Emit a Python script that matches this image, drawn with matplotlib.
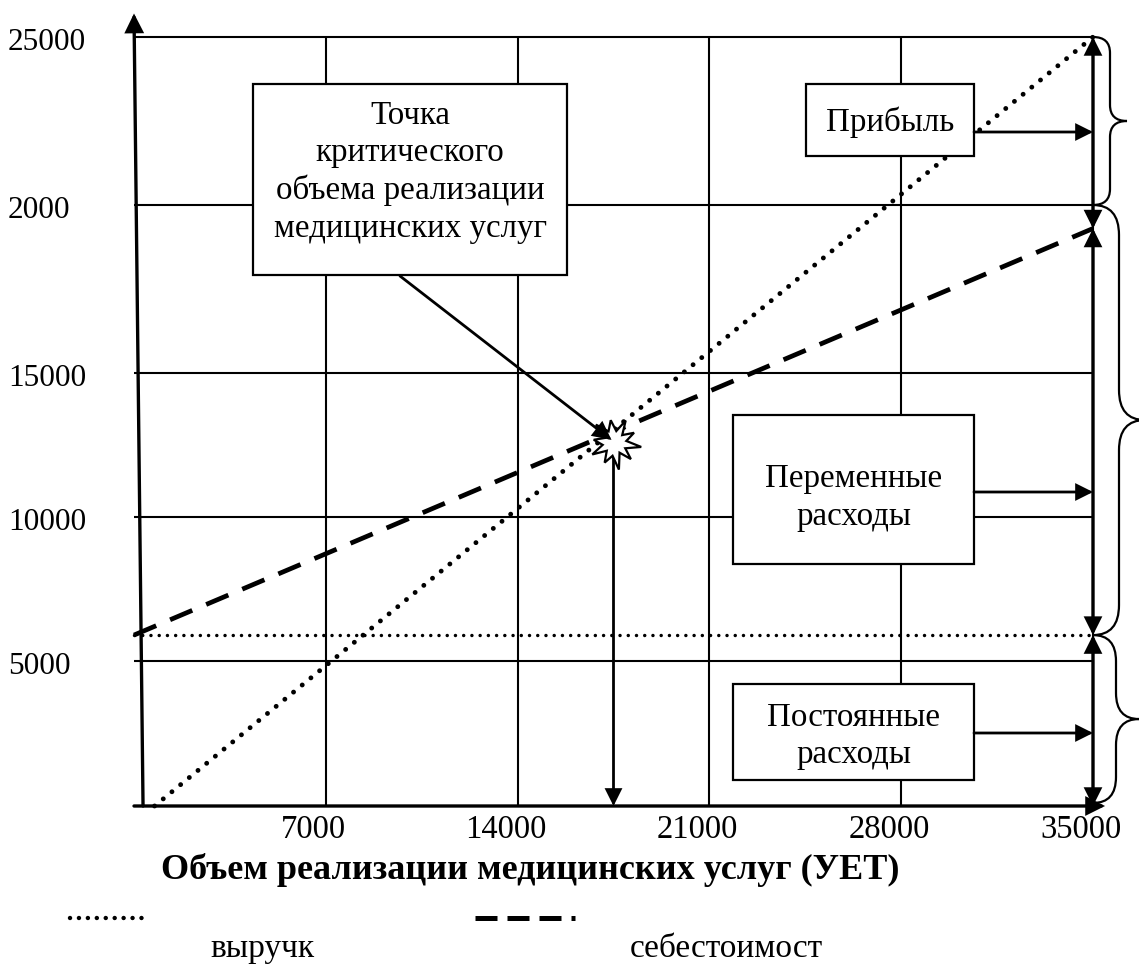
import numpy as np
import matplotlib
matplotlib.use("Agg")
import matplotlib.pyplot as plt
from matplotlib.patches import Rectangle, Polygon, PathPatch, FancyArrowPatch
from matplotlib.path import Path
from matplotlib.lines import Line2D

# ---------------- data ----------------
volume_ticks = [7000, 14000, 21000, 28000, 35000]
volume_tick_labels = ["7000", "14000", "21000", "28000", "35000"]
money_ticks = [5000, 10000, 15000, 20000, 25000]
money_tick_labels = ["5000", "10000", "15000", "2000", "25000"]

revenue_volume = [750, 35000]
revenue_value = [0, 25000]
cost_volume = [0, 35000]
cost_value = [5900, 19300]
fixed_volume = [0, 35000]
fixed_value = [5900, 5900]
breakeven_volume = 17500

x_label = "Объем реализации медицинских услуг (УЕТ)"
legend_labels = ["выручк", "себестоимост"]
box_breakeven = ["Точка", "критического", "объема реализации", "медицинских услуг"]
box_profit = ["Прибыль"]
box_variable = ["Переменные", "расходы"]
box_fixed = ["Постоянные", "расходы"]

# ---------------- figure / scale ----------------
W, H = 1139, 967
fig = plt.figure(figsize=(W / 100, H / 100), dpi=100)
fig.patch.set_facecolor("white")
SERIF = ["Liberation Serif", "DejaVu Serif"]

# the original drawing has unevenly spaced horizontal grid rows
grid_vals = np.array([0, 5000, 10000, 15000, 20000, 25000], float)
grid_pos = np.array([0, 145, 289, 433, 601, 769], float)
s0 = (grid_pos[1] - grid_pos[0]) / (grid_vals[1] - grid_vals[0])
s1 = (grid_pos[-1] - grid_pos[-2]) / (grid_vals[-1] - grid_vals[-2])


def fwd(v):
    v = np.asarray(v, float)
    out = np.interp(v, grid_vals, grid_pos)
    out = np.where(v < grid_vals[0], grid_pos[0] + (v - grid_vals[0]) * s0, out)
    out = np.where(v > grid_vals[-1], grid_pos[-1] + (v - grid_vals[-1]) * s1, out)
    return out


def inv(p):
    p = np.asarray(p, float)
    out = np.interp(p, grid_pos, grid_vals)
    out = np.where(p < grid_pos[0], grid_vals[0] + (p - grid_pos[0]) / s0, out)
    out = np.where(p > grid_pos[-1], grid_vals[-1] + (p - grid_pos[-1]) / s1, out)
    return out


ax = fig.add_axes([134 / W, 161 / H, 959 / W, 769 / H], zorder=1)
ax.set_yscale("function", functions=(fwd, inv))
ax.set_xlim(0, 35000)
ax.set_ylim(0, 25000)
ax.set_axis_off()

pax = fig.add_axes([0, 0, 1, 1], zorder=2)
pax.set_xlim(0, W)
pax.set_ylim(H, 0)
pax.set_axis_off()
pax.patch.set_alpha(0)


def to_px(x, y):
    X, Y = ax.transData.transform((x, y))
    return float(X), float(H - Y)


# ---------------- grid ----------------
for v in money_ticks:
    ax.plot([0, 35000], [v, v], color="k", lw=1.5, solid_capstyle="butt", clip_on=False)
for v in volume_ticks:
    ax.plot([v, v], [0, 25000], color="k", lw=1.5, solid_capstyle="butt", clip_on=False)

# ---------------- series ----------------
ax.plot(fixed_volume, fixed_value, color="k", lw=2.5,
        linestyle=(0, (0.01, 2.36)), dash_capstyle="round", clip_on=False, zorder=3)
ax.plot(cost_volume, cost_value, color="k", lw=3.4,
        linestyle=(0, (5.1, 3.2)), dash_capstyle="butt", clip_on=False, zorder=3)
ax.plot(revenue_volume, revenue_value, color="k", lw=3.5,
        linestyle=(0, (0.01, 2.3)), dash_capstyle="round", clip_on=False, zorder=3)


def arrow(p0, p1, style="-|>", lw=2.2, ms=24, z=6):
    pax.add_patch(FancyArrowPatch(p0, p1, arrowstyle=style, mutation_scale=ms,
                                  lw=lw, color="k", shrinkA=0, shrinkB=0,
                                  zorder=z, joinstyle="miter"))


# ---------------- axes arrows ----------------
x0p, y0p = to_px(0, 0)
arrow((x0p, y0p), to_px(35440, 0), lw=2.4, ms=26)
arrow(to_px(330, 0), to_px(0, 25700), lw=2.4, ms=26)

# ---------------- right-side double arrows ----------------
arrow(to_px(35000, revenue_value[-1]), to_px(35000, cost_value[-1]), style="<|-|>", lw=2.4, ms=24)
arrow(to_px(35000, cost_value[-1]), to_px(35000, fixed_value[-1]), style="<|-|>", lw=2.4, ms=24)
arrow(to_px(35000, fixed_value[-1]), to_px(35000, 0), style="<|-|>", lw=2.4, ms=24)


# ---------------- braces ----------------
def brace(x0, y0, y1, w, r):
    ym = (y0 + y1) / 2
    xs = x0 + w * 0.5
    xc = x0 + w
    verts = [(x0, y0), (xs, y0), (xs, y0 + r),
             (xs, ym - r), (xs, ym), (xc, ym),
             (xs, ym), (xs, ym + r),
             (xs, y1 - r), (xs, y1), (x0, y1)]
    codes = [Path.MOVETO, Path.CURVE3, Path.CURVE3,
             Path.LINETO, Path.CURVE3, Path.CURVE3,
             Path.CURVE3, Path.CURVE3,
             Path.LINETO, Path.CURVE3, Path.CURVE3]
    pax.add_patch(PathPatch(Path(verts, codes), fill=False, lw=1.6, ec="k", zorder=5))


bx_right, _ = to_px(35000, 0)
brace(bx_right, to_px(0, 25000)[1], to_px(0, 20000)[1], 34, 16)
brace(bx_right, to_px(0, 20000)[1], to_px(0, fixed_value[0])[1], 52, 30)
brace(bx_right, to_px(0, fixed_value[0])[1], to_px(0, 0)[1] - 3, 46, 26)


# ---------------- boxes ----------------
def box(x, y, w, h, lines, baselines):
    pax.add_patch(Rectangle((x, y), w, h, fc="white", ec="k", lw=1.6, zorder=4))
    for t, b in zip(lines, baselines):
        pax.text(x + w / 2, b, t, ha="center", va="baseline", fontsize=23.8,
                 family=SERIF, zorder=7)


box(253, 84, 314, 191, box_breakeven, [124, 161.5, 199, 236.5])
box(806, 84, 168, 72, box_profit, [131])
box(733, 415, 241, 149, box_variable, [487, 524.5])
box(733, 684, 241, 96, box_fixed, [726, 763])

arrow((974, 132), (bx_right, 132), lw=2.0, ms=24)
arrow((974, 492), (bx_right, 492), lw=2.0, ms=24)
arrow((974, 733), (bx_right, 733), lw=2.0, ms=24)

# ---------------- break-even marker ----------------
rp0 = np.array(to_px(revenue_volume[0], revenue_value[0]))
rp1 = np.array(to_px(revenue_volume[1], revenue_value[1]))
bxp, _ = to_px(breakeven_volume, 0)
t = (bxp - rp0[0]) / (rp1[0] - rp0[0])
byp = rp0[1] + t * (rp1[1] - rp0[1])
cx, cy = bxp + 1, byp + 13

arrow((bxp, cy), to_px(breakeven_volume, 0), lw=2.0, ms=24, z=4)

radii = [27, 12, 23, 11, 27, 13, 22, 11, 25, 12, 21, 11, 26, 13, 23, 12, 25, 11, 22, 12]
ang = np.linspace(0, 2 * np.pi, len(radii), endpoint=False) + 0.15
star = [(cx + r * np.cos(a), cy + r * np.sin(a)) for r, a in zip(radii, ang)]
pax.add_patch(Polygon(star, closed=True, fc="white", ec="k", lw=1.6, zorder=5))

arrow((400, 276), (cx - 3, cy - 3), lw=2.0, ms=26, z=6)

# ---------------- tick labels ----------------
for v, lab in zip(money_ticks, money_tick_labels):
    _, yp = to_px(0, v)
    pax.text(8, yp + 6, lab, ha="left", va="center", fontsize=22.5, family=SERIF)
for v, lab in zip(volume_ticks, volume_tick_labels):
    xp, _ = to_px(v, 0)
    pax.text(xp - 12, 838, lab, ha="center", va="baseline", fontsize=23.5, family=SERIF)

pax.text(530, 879, x_label, ha="center", va="baseline", fontsize=26,
         family=SERIF, fontweight="bold")

# ---------------- legend ----------------
pax.add_line(Line2D([70, 143], [918, 918], color="k", lw=3.2,
                    linestyle=(0, (0.01, 2.0)), dash_capstyle="round"))
pax.add_line(Line2D([475, 575], [918, 918], color="k", lw=3.6,
                    linestyle=(0, (4.4, 2.0)), dash_capstyle="butt"))
pax.text(210, 957, legend_labels[0], ha="left", va="baseline", fontsize=24, family=SERIF)
pax.text(630, 957, legend_labels[1], ha="left", va="baseline", fontsize=24, family=SERIF)

fig.savefig("out.png", dpi=100, facecolor="white")
